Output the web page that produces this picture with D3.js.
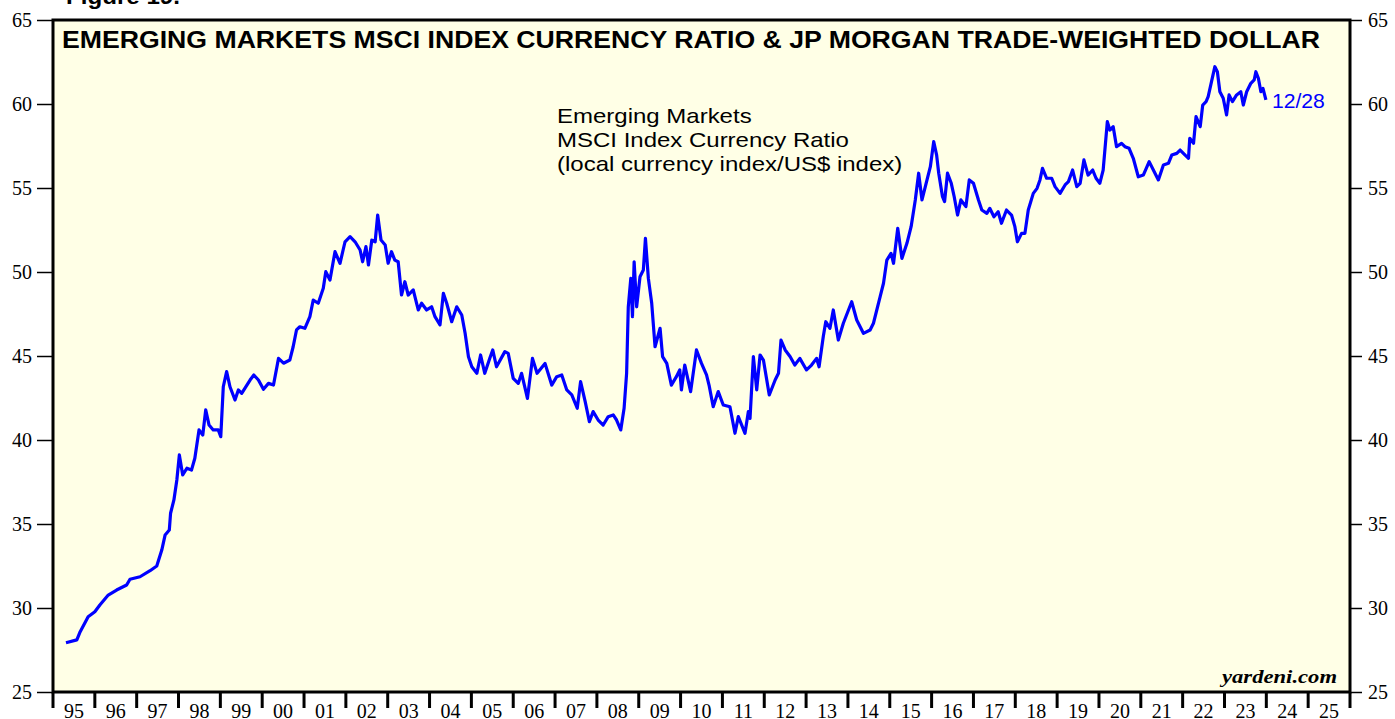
<!DOCTYPE html>
<html>
<head>
<meta charset="utf-8">
<script src="https://cdn.jsdelivr.net/npm/d3@7"></script>
<style>
  body { margin: 0; background: #fff; }
  svg { display: block; }
</style>
</head>
<body>
<div class="usable"></div>
<script>
// datos (anio decimal, valor del ratio)
const fechas = [
  1995.31, 1995.57, 1995.65, 1995.84, 1996.00, 1996.12, 1996.32, 1996.52, 1996.76, 1996.84,
  1997.08, 1997.32, 1997.48, 1997.60, 1997.68, 1997.78, 1997.81, 1997.89, 1997.96, 1998.02,
  1998.10, 1998.20, 1998.31, 1998.39, 1998.49, 1998.58, 1998.65, 1998.73, 1998.83, 1998.95,
  1999.01, 1999.07, 1999.15, 1999.23, 1999.35, 1999.43, 1999.51, 1999.71, 1999.80, 1999.91,
  2000.03, 2000.15, 2000.27, 2000.39, 2000.51, 2000.66, 2000.74, 2000.82, 2000.90, 2001.02,
  2001.14, 2001.22, 2001.34, 2001.46, 2001.52, 2001.62, 2001.74, 2001.86, 2001.98, 2002.10,
  2002.22, 2002.34, 2002.40, 2002.48, 2002.54, 2002.62, 2002.70, 2002.76, 2002.84, 2002.94,
  2003.01, 2003.09, 2003.17, 2003.25, 2003.33, 2003.41, 2003.49, 2003.61, 2003.73, 2003.81,
  2003.93, 2004.05, 2004.13, 2004.25, 2004.33, 2004.41, 2004.53, 2004.65, 2004.77, 2004.85,
  2004.93, 2005.01, 2005.13, 2005.22, 2005.32, 2005.44, 2005.51, 2005.60, 2005.80, 2005.88,
  2006.00, 2006.12, 2006.20, 2006.34, 2006.46, 2006.57, 2006.76, 2006.92, 2007.04, 2007.16,
  2007.28, 2007.40, 2007.53, 2007.61, 2007.72, 2007.82, 2007.91, 2008.03, 2008.15, 2008.27,
  2008.39, 2008.47, 2008.57, 2008.65, 2008.71, 2008.75, 2008.81, 2008.85, 2008.89, 2008.95,
  2009.03, 2009.11, 2009.16, 2009.23, 2009.31, 2009.39, 2009.51, 2009.57, 2009.67, 2009.78,
  2009.90, 2009.98, 2010.02, 2010.10, 2010.24, 2010.38, 2010.50, 2010.62, 2010.68, 2010.78,
  2010.90, 2011.02, 2011.18, 2011.30, 2011.38, 2011.54, 2011.62, 2011.66, 2011.74, 2011.82,
  2011.90, 2011.98, 2012.12, 2012.26, 2012.34, 2012.40, 2012.50, 2012.62, 2012.73, 2012.85,
  2013.01, 2013.13, 2013.25, 2013.31, 2013.41, 2013.47, 2013.57, 2013.65, 2013.77, 2013.89,
  2014.09, 2014.21, 2014.37, 2014.53, 2014.61, 2014.77, 2014.85, 2014.93, 2015.03, 2015.09,
  2015.19, 2015.29, 2015.41, 2015.51, 2015.61, 2015.69, 2015.77, 2015.89, 2015.97, 2016.05,
  2016.12, 2016.17, 2016.26, 2016.31, 2016.38, 2016.47, 2016.54, 2016.62, 2016.70, 2016.82,
  2016.90, 2017.00, 2017.12, 2017.20, 2017.32, 2017.39, 2017.49, 2017.59, 2017.67, 2017.79,
  2017.91, 2017.99, 2018.05, 2018.15, 2018.23, 2018.31, 2018.43, 2018.52, 2018.59, 2018.65,
  2018.75, 2018.87, 2018.95, 2019.07, 2019.19, 2019.27, 2019.37, 2019.47, 2019.55, 2019.64,
  2019.74, 2019.85, 2019.93, 2020.02, 2020.10, 2020.20, 2020.26, 2020.34, 2020.42, 2020.54,
  2020.62, 2020.72, 2020.82, 2020.94, 2021.06, 2021.20, 2021.30, 2021.42, 2021.54, 2021.66,
  2021.74, 2021.86, 2021.94, 2022.06, 2022.14, 2022.17, 2022.26, 2022.32, 2022.42, 2022.48,
  2022.56, 2022.61, 2022.69, 2022.77, 2022.83, 2022.89, 2022.97, 2023.05, 2023.11, 2023.19,
  2023.29, 2023.39, 2023.45, 2023.53, 2023.63, 2023.71, 2023.75, 2023.81, 2023.87, 2023.92,
  2023.99
]

const ratio = [
  27.93, 28.10, 28.59, 29.48, 29.78, 30.18, 30.77, 31.07, 31.37, 31.71,
  31.86, 32.22, 32.50, 33.45, 34.35, 34.64, 35.64, 36.43, 37.62, 39.11,
  37.92, 38.32, 38.21, 38.91, 40.60, 40.30, 41.79, 40.89, 40.60, 40.60,
  40.20, 43.17, 44.07, 43.17, 42.38, 42.98, 42.78, 43.57, 43.87, 43.57,
  43.02, 43.37, 43.27, 44.86, 44.57, 44.76, 45.55, 46.55, 46.74, 46.65,
  47.34, 48.33, 48.14, 49.03, 50.02, 49.52, 51.21, 50.52, 51.80, 52.10,
  51.80, 51.31, 50.61, 51.51, 50.42, 51.90, 51.80, 53.39, 51.90, 51.61,
  50.52, 51.21, 50.71, 50.61, 48.63, 49.42, 48.63, 48.93, 47.74, 48.14,
  47.74, 47.93, 47.34, 46.85, 48.73, 48.14, 47.04, 47.93, 47.44, 46.35,
  44.96, 44.36, 43.97, 45.06, 43.97, 44.86, 45.36, 44.36, 45.26, 45.16,
  43.67, 43.37, 43.97, 42.48, 44.86, 43.97, 44.56, 43.27, 43.77, 43.87,
  42.98, 42.68, 41.89, 43.47, 42.28, 41.09, 41.69, 41.19, 40.89, 41.39,
  41.49, 41.19, 40.60, 41.89, 43.97, 47.93, 49.62, 47.34, 50.61, 47.93,
  49.72, 50.12, 52.00, 49.62, 48.14, 45.55, 46.65, 44.96, 44.56, 43.27,
  43.77, 44.17, 42.98, 44.46, 42.88, 45.36, 44.56, 43.87, 43.27, 41.98,
  42.88, 42.08, 41.98, 40.40, 41.39, 40.40, 41.69, 41.29, 44.96, 42.98,
  45.06, 44.76, 42.68, 43.57, 43.97, 45.95, 45.36, 44.96, 44.46, 44.86,
  44.17, 44.46, 44.86, 44.36, 46.15, 47.04, 46.65, 47.74, 45.95, 46.95,
  48.23, 47.14, 46.35, 46.55, 46.95, 48.53, 49.33, 50.71, 51.11, 50.52,
  52.60, 50.81, 51.71, 52.70, 54.29, 55.88, 54.29, 55.48, 56.27, 57.76,
  56.96, 55.88, 54.48, 54.19, 55.88, 55.28, 54.48, 53.39, 54.29, 53.89,
  55.48, 55.28, 54.29, 53.69, 53.49, 53.79, 53.29, 53.59, 52.90, 53.69,
  53.39, 52.70, 51.80, 52.30, 52.30, 53.69, 54.68, 54.98, 55.48, 56.17,
  55.58, 55.58, 55.08, 54.68, 55.18, 55.38, 56.07, 55.08, 55.28, 56.67,
  55.77, 56.07, 55.58, 55.28, 56.07, 58.95, 58.45, 58.65, 57.46, 57.66,
  57.46, 57.36, 56.77, 55.67, 55.77, 56.57, 56.07, 55.48, 56.37, 56.47,
  56.96, 57.06, 57.26, 56.96, 56.77, 57.96, 57.66, 59.25, 58.65, 59.94,
  60.14, 60.44, 61.33, 62.22, 61.92, 60.73, 60.34, 59.35, 60.54, 60.14,
  60.54, 60.73, 59.94, 60.73, 61.23, 61.43, 61.92, 61.53, 60.73, 60.93,
  60.24
]

const anios = d3.range(1995, 2026)
const yTicks = [25, 30, 35, 40, 45, 50, 55, 60, 65]

const titulo = "EMERGING MARKETS MSCI INDEX CURRENCY RATIO & JP MORGAN TRADE-WEIGHTED DOLLAR"
const etiqueta = ["Emerging Markets", "MSCI Index Currency Ratio", "(local currency index/US$ index)"]
const ultimaFecha = "12/28"

const width = 1395,
  height = 719

const izq = 53, der = 1350, arriba = 20, abajo = 692

let svg = d3.select(".usable").append("svg")
  .attr("width", width)
  .attr("height", height)

let x = d3.scaleLinear().domain([1995, 2026]).range([izq, der])
let y = d3.scaleLinear().domain([25, 65]).range([abajo, arriba])

// fondo del area del grafico
svg.append("rect")
  .attr("x", izq).attr("y", arriba)
  .attr("width", der - izq).attr("height", abajo - arriba)
  .attr("fill", "#ffffe6")

// texto de figura (cortado arriba)
svg.append("text").text("Figure 19.")
  .attr("x", 66).attr("y", 4)
  .attr("textLength", 114).attr("lengthAdjust", "spacingAndGlyphs")
  .attr("font-family", "Liberation Sans, Arial, sans-serif")
  .attr("font-weight", "bold").attr("font-size", 22)

// ejes y izquierdo y derecho
let ejeIzq = d3.axisLeft(y).tickValues(yTicks).tickSize(16).tickPadding(5)
let ejeDer = d3.axisRight(y).tickValues(yTicks).tickSize(12).tickPadding(6)

function estiloEje(g) {
  g.select(".domain").remove()
  g.selectAll("line").attr("stroke", "#000").attr("stroke-width", 1.5)
  g.selectAll("text")
    .attr("font-family", "Liberation Serif, Times New Roman, serif")
    .attr("font-size", 20).attr("fill", "#000")
}

svg.append("g").attr("transform", "translate(" + izq + ",0)").call(ejeIzq).call(estiloEje)
svg.append("g").attr("transform", "translate(" + der + ",0)").call(ejeDer).call(estiloEje)

// eje x: marcas en el borde de cada anio, etiqueta en el medio
let ejeX = svg.append("g")
ejeX.selectAll("line").data(anios.concat([2026])).enter().append("line")
  .attr("x1", d => x(d)).attr("x2", d => x(d))
  .attr("y1", abajo).attr("y2", abajo + 16)
  .attr("stroke", "#000").attr("stroke-width", 3)
ejeX.selectAll("text").data(anios).enter().append("text")
  .text(d => d3.format("02")(d % 100))
  .attr("x", d => x(d + 0.5)).attr("y", 718)
  .attr("text-anchor", "middle")
  .attr("font-family", "Liberation Serif, Times New Roman, serif")
  .attr("font-size", 20)

// linea del ratio
let datos = fechas.map((f, i) => [f, ratio[i]])
let linea = d3.line().x(d => x(d[0])).y(d => y(d[1]))
svg.append("path").datum(datos)
  .attr("d", linea)
  .attr("fill", "none")
  .attr("stroke", "#0000ff")
  .attr("stroke-width", 3.2)
  .attr("stroke-linejoin", "round")

// etiqueta de la ultima fecha
let ultimo = datos[datos.length - 1]
svg.append("text").text(ultimaFecha)
  .attr("x", x(ultimo[0]) + 6).attr("y", y(ultimo[1]) + 8)
  .attr("textLength", 53).attr("lengthAdjust", "spacingAndGlyphs")
  .attr("fill", "#0000ff")
  .attr("font-family", "Liberation Sans, Arial, sans-serif")
  .attr("font-size", 20)

// leyenda (texto estirado a lo ancho como en el original)
svg.append("g").attr("transform", "translate(557,0) scale(1.2,1)")
  .selectAll("text").data(etiqueta).enter().append("text")
  .text(d => d)
  .attr("x", 0).attr("y", (d, i) => 123 + i * 24)
  .attr("font-family", "Liberation Sans, Arial, sans-serif")
  .attr("font-size", 20)

// titulo
svg.append("text").text(titulo)
  .attr("x", 62).attr("y", 48)
  .attr("textLength", 1258).attr("lengthAdjust", "spacingAndGlyphs")
  .attr("font-family", "Liberation Sans, Arial, sans-serif")
  .attr("font-weight", "bold").attr("font-size", 23)

svg.append("text").text("yardeni.com")
  .attr("x", 1222).attr("y", 683)
  .attr("textLength", 115).attr("lengthAdjust", "spacingAndGlyphs")
  .attr("font-family", "Liberation Serif, Times New Roman, serif")
  .attr("font-weight", "bold").attr("font-style", "italic")
  .attr("font-size", 19)

// borde
svg.append("rect")
  .attr("x", izq).attr("y", arriba)
  .attr("width", der - izq).attr("height", abajo - arriba)
  .attr("fill", "none").attr("stroke", "#000").attr("stroke-width", 3)
</script>
</body>
</html>
